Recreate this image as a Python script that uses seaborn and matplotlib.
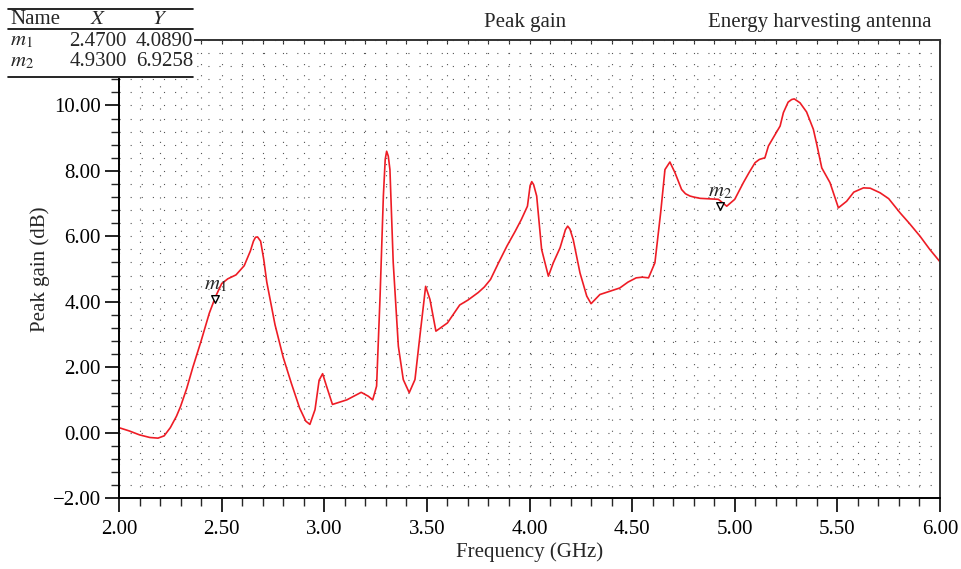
import matplotlib
matplotlib.use("Agg")
import matplotlib.pyplot as plt
from matplotlib.ticker import MultipleLocator, FuncFormatter
from matplotlib.lines import Line2D
from matplotlib.patches import Rectangle
import seaborn as sns

# data
freq = [2.00, 2.05, 2.10, 2.15, 2.19, 2.22, 2.25, 2.28, 2.30, 2.33, 2.36, 2.40,
        2.44, 2.47, 2.50, 2.53, 2.57, 2.61, 2.64, 2.655, 2.665, 2.675, 2.69,
        2.705, 2.72, 2.76, 2.80, 2.84, 2.88, 2.91, 2.93, 2.955, 2.975, 2.992,
        3.012, 3.04, 3.11, 3.18, 3.215, 3.236, 3.255, 3.272, 3.288, 3.297,
        3.304, 3.312, 3.32, 3.336, 3.361, 3.385, 3.414, 3.442, 3.466, 3.494,
        3.515, 3.544, 3.60, 3.66, 3.70, 3.75, 3.78, 3.81, 3.85, 3.89, 3.93,
        3.96, 3.99, 4.003, 4.011, 4.02, 4.035, 4.059, 4.092, 4.116, 4.149,
        4.175, 4.186, 4.197, 4.213, 4.246, 4.279, 4.30, 4.343, 4.44, 4.48,
        4.52, 4.55, 4.58, 4.611, 4.639, 4.66, 4.684, 4.709, 4.741, 4.76, 4.782,
        4.80, 4.831, 4.92, 4.961, 5.00, 5.042, 5.07, 5.099, 5.12, 5.147, 5.164,
        5.221, 5.237, 5.26, 5.277, 5.29, 5.318, 5.35, 5.383, 5.40, 5.424,
        5.464, 5.505, 5.545, 5.58, 5.627, 5.66, 5.708, 5.75, 5.805, 5.85,
        5.903, 5.95, 6.00]
gain = [0.15, 0.05, -0.07, -0.15, -0.17, -0.10, 0.15, 0.50, 0.80, 1.35, 2.00,
        2.80, 3.65, 4.15, 4.55, 4.70, 4.82, 5.10, 5.55, 5.85, 5.97, 5.98, 5.85,
        5.30, 4.60, 3.30, 2.30, 1.50, 0.75, 0.35, 0.25, 0.70, 1.60, 1.80, 1.40,
        0.86, 1.00, 1.23, 1.11, 1.00, 1.42, 4.17, 7.23, 8.35, 8.60, 8.45, 8.04,
        5.20, 2.64, 1.62, 1.22, 1.62, 2.95, 4.47, 4.07, 3.10, 3.35, 3.90, 4.05,
        4.28, 4.45, 4.68, 5.20, 5.70, 6.15, 6.51, 6.92, 7.55, 7.67, 7.58, 7.23,
        5.60, 4.78, 5.19, 5.65, 6.20, 6.31, 6.22, 5.90, 4.88, 4.17, 3.94, 4.22,
        4.42, 4.60, 4.73, 4.75, 4.73, 5.19, 6.72, 8.04, 8.27, 7.94, 7.43, 7.30,
        7.23, 7.20, 7.16, 7.13, 6.92, 7.13, 7.64, 7.95, 8.25, 8.35, 8.40, 8.76,
        9.37, 9.78, 10.10, 10.18, 10.20, 10.08, 9.80, 9.27, 8.80, 8.09, 7.64,
        6.87, 7.07, 7.35, 7.48, 7.47, 7.33, 7.15, 6.72, 6.40, 6.00, 5.60, 5.22]

marker_names = ["m_1", "m_2"]
marker_x = [2.47, 4.93]
marker_y = [4.0890, 6.9258]

sns.set_style("ticks")
plt.rcParams["font.family"] = ["Liberation Serif", "DejaVu Serif"]
plt.rcParams["mathtext.fontset"] = "stix"

FS = 15

fig = plt.figure(figsize=(9.62, 5.69), dpi=100)
ax = fig.add_axes([119 / 962, 1 - 498 / 569, 821 / 962, 458 / 569])

sns.lineplot(x=freq, y=gain, color="#ee1c25", lw=1.2, ax=ax, sort=False)

# markers
ax.scatter(marker_x, marker_y, marker="v", s=30, facecolor="white",
           edgecolor="black", linewidth=1.0, zorder=5)
for name, mx, my in zip(marker_names, marker_x, marker_y):
    ax.text(mx, my + 0.15, "$" + name + "$", fontsize=FS, ha="center",
            va="bottom", zorder=6)

ax.set_xlim(2.0, 6.0)
ax.set_ylim(-2.0, 12.0)
ax.xaxis.set_major_locator(MultipleLocator(0.5))
ax.xaxis.set_minor_locator(MultipleLocator(0.1))
ax.set_yticks([-2, 0, 2, 4, 6, 8, 10])
ax.yaxis.set_minor_locator(MultipleLocator(0.4))
fmt = FuncFormatter(lambda v, p: f"{v:.2f}".replace("-", "\u2212"))
ax.xaxis.set_major_formatter(fmt)
ax.yaxis.set_major_formatter(fmt)
ax.tick_params(which="major", direction="out", length=10, width=1.2,
               labelsize=FS, colors="black", pad=3)
ax.tick_params(axis="x", which="major", pad=6)
ax.tick_params(which="minor", direction="out", length=6, width=1.0)

ax.grid(which="both", color="#555555", linestyle=(0, (1, 9)), linewidth=0.8)

for side in ["left", "bottom"]:
    ax.spines[side].set_color("black")
    ax.spines[side].set_linewidth(1.4)
for side in ["top", "right"]:
    ax.spines[side].set_visible(True)
    ax.spines[side].set_color("#333333")
    ax.spines[side].set_linewidth(1.4)

top = ax.secondary_xaxis("top")
top.xaxis.set_minor_locator(MultipleLocator(0.1))
top.xaxis.set_major_locator(MultipleLocator(0.5))
top.tick_params(which="both", direction="in", length=3, width=0.8, labeltop=False)
top.spines["top"].set_visible(False)

ax.set_xlabel("Frequency (GHz)", fontsize=FS)
ax.set_ylabel("Peak gain (dB)", fontsize=FS)
ax.xaxis.set_label_coords(0.5, -0.096)
ax.yaxis.set_label_coords(-0.084, 0.5)

fig.text(525 / 962, 1 - 22 / 569, "Peak gain", fontsize=FS, ha="center", va="center")
fig.text(932 / 962, 1 - 22 / 569, "Energy harvesting antenna", fontsize=FS,
         ha="right", va="center")

# marker table in the top-left corner, on a white box over the plot
fig.add_artist(Rectangle((0, 1 - 78 / 569), 194 / 962, 78 / 569,
                         transform=fig.transFigure, facecolor="white",
                         edgecolor="none", zorder=1))
for yy in [9, 29, 77]:
    fig.add_artist(Line2D([8 / 962, 193 / 962], [1 - yy / 569, 1 - yy / 569],
                          color="black", lw=1.2, transform=fig.transFigure,
                          zorder=2))
fig.text(10 / 962, 1 - 19 / 569, "Name", fontsize=FS, va="center")
fig.text(98 / 962, 1 - 19 / 569, "$X$", fontsize=FS, va="center", ha="center")
fig.text(160 / 962, 1 - 19 / 569, "$Y$", fontsize=FS, va="center", ha="center")
for i, (name, mx, my) in enumerate(zip(marker_names, marker_x, marker_y)):
    yy = 1 - (41 + 21 * i) / 569
    fig.text(10 / 962, yy, "$" + name + "$", fontsize=FS, va="center")
    fig.text(127 / 962, yy, f"{mx:.4f}", fontsize=FS, va="center", ha="right")
    fig.text(193 / 962, yy, f"{my:.4f}", fontsize=FS, va="center", ha="right")

fig.savefig("out.png", dpi=100)
